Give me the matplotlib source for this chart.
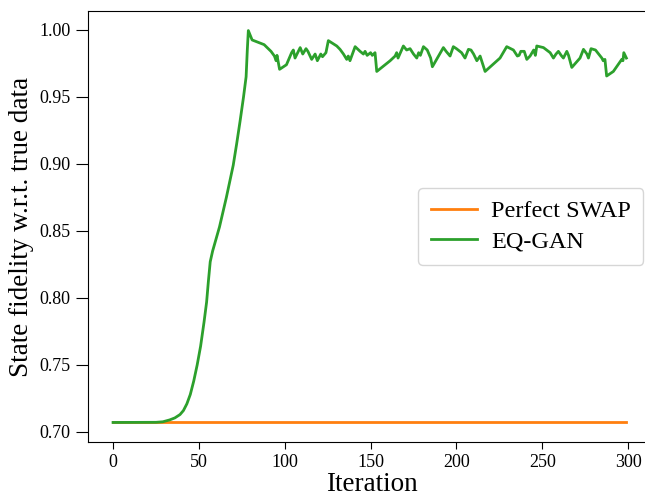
import numpy as np
import matplotlib
matplotlib.use("Agg")
import matplotlib.pyplot as plt

plt.rcParams["font.family"] = ["Liberation Serif", "DejaVu Serif"]

# perfect swap baseline (1/sqrt(2)), over all iterations
swap_iters = [0, 299]
swap_fid = [0.7071, 0.7071]

# EQ-GAN fidelity (iteration, value)
eq_iters = [
    0, 25, 29, 33, 36, 39, 41, 43, 45, 47, 49, 51, 53, 54.5, 55.5, 56.6,
    58, 60, 62, 64, 66, 68, 70, 72, 74, 76, 77.5, 78.2, 78.8,
    81, 84, 88, 92, 94, 95, 95.5, 97, 101, 104, 105, 106, 109, 110.5, 112.4,
    113.5, 115.7, 117.7, 119, 121, 122, 124, 125.4, 130.3, 132.2, 134.2,
    136.1, 137, 138, 141, 143.9, 145.8, 146.8, 148, 150, 151, 152.6, 153.6,
    161.4, 164.3, 165.2, 166, 169.1, 171, 173, 175, 176.9, 178, 179, 180.8,
    183, 185, 186, 192.4, 194, 196.3, 198.2, 200, 203, 204, 205, 207, 208.5,
    210, 211.9, 213.8, 216.7, 225.4, 229.3, 233.2, 235.5, 236.5, 237.5,
    239.5, 241, 242.9, 245, 246, 246.8, 250.7, 254.6, 256.5, 258, 259.4, 261,
    262.3, 264.3, 265.3, 267.2, 272, 274, 276, 276.9, 278.4, 281, 284.7,
    285.5, 286.5, 287.5, 291.4, 296.3, 297, 297.5, 299,
]
eq_fid = [
    0.7071, 0.7072, 0.7076, 0.709, 0.7105, 0.713, 0.716, 0.721, 0.728,
    0.738, 0.750, 0.764, 0.782, 0.797, 0.812, 0.827,
    0.835, 0.844, 0.853, 0.864, 0.875, 0.887, 0.899, 0.915, 0.932, 0.950,
    0.965, 0.985, 0.9995,
    0.9925, 0.991, 0.989, 0.984, 0.9805, 0.977, 0.981, 0.9706, 0.974, 0.983,
    0.985, 0.979, 0.9868, 0.982, 0.986, 0.984, 0.978, 0.982, 0.977, 0.982,
    0.980, 0.983, 0.992, 0.988, 0.9855, 0.982, 0.978, 0.9805, 0.977, 0.9875,
    0.984, 0.982, 0.984, 0.981, 0.983, 0.981, 0.983, 0.969, 0.977, 0.9805,
    0.983, 0.979, 0.988, 0.985, 0.986, 0.982, 0.979, 0.983, 0.981, 0.9875,
    0.985, 0.979, 0.9725, 0.9868, 0.984, 0.9805, 0.9875, 0.986, 0.983, 0.981,
    0.979, 0.9855, 0.985, 0.982, 0.977, 0.9805, 0.969, 0.979, 0.9875, 0.985,
    0.9805, 0.981, 0.984, 0.984, 0.978, 0.9805, 0.985, 0.981, 0.988, 0.9868,
    0.983, 0.979, 0.982, 0.984, 0.981, 0.979, 0.984, 0.981, 0.972, 0.979,
    0.9855, 0.982, 0.979, 0.986, 0.985, 0.979, 0.977, 0.978, 0.9656, 0.969,
    0.978, 0.977, 0.983, 0.979,
]


def plot_fidelity(out_path="out.png"):
    fig = plt.figure(figsize=(6.45, 4.98), dpi=100)
    # right spine sits just past the canvas, as in the original crop
    ax = fig.add_axes([0.1364, 0.1124, 0.880, 0.8655])

    ax.plot(swap_iters, swap_fid, color="#ff7f0e", lw=2, label="Perfect SWAP")
    ax.plot(eq_iters, eq_fid, color="#2ca02c", lw=2, label="EQ-GAN")

    ax.set_xlim(-14.6, 316.0)
    ax.set_ylim(0.6925, 1.0141)
    ax.set_xticks([0, 50, 100, 150, 200, 250, 300])
    ax.set_yticks(np.round(np.arange(0.70, 1.001, 0.05), 2))
    ax.set_yticklabels([f"{v:.2f}" for v in np.arange(0.70, 1.001, 0.05)])
    ax.tick_params(labelsize=13)
    ax.tick_params(axis="y", length=9)
    ax.tick_params(axis="x", length=5)

    ax.set_xlabel("Iteration", fontsize=19.5, labelpad=1)
    ax.set_ylabel("State fidelity w.r.t. true data", fontsize=19.5)
    ax.legend(loc="center right", fontsize=17.5, labelspacing=0.35,
              handlelength=1.9, handletextpad=0.6, borderpad=0.5)

    fig.savefig(out_path, dpi=100)


if __name__ == "__main__":
    plot_fidelity()
